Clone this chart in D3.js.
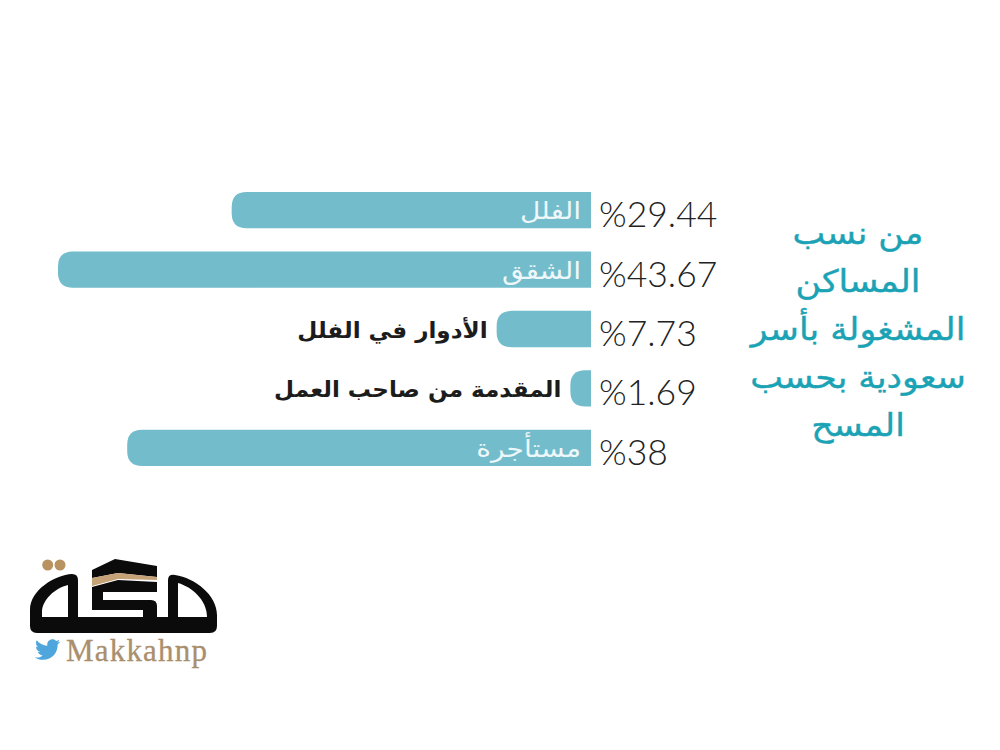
<!DOCTYPE html>
<html>
<head>
<meta charset="utf-8">
<script src="https://cdn.jsdelivr.net/npm/d3@7"></script>
<style>
html,body{margin:0;padding:0;background:#fff;}
</style>
</head>
<body>
<div id="chart"></div>
<script>
const categories = ["الفلل", "الشقق", "الأدوار في الفلل", "المقدمة من صاحب العمل", "مستأجرة"];
const values = [29.44, 43.67, 7.73, 1.69, 38];
const valueLabels = ["%29.44", "%43.67", "%7.73", "%1.69", "%38"];
const titleLines = ["من نسب", "المساكن", "المشغولة بأسر", "سعودية بحسب", "المسح"];

const width = 1000, height = 750;
const barColor = "#72bccc", titleColor = "#1ba3b5", arabicFont = "'DejaVu Sans'";

const svg = d3.select("#chart").append("svg").attr("width",width).attr("height",height);

const x = d3.scaleLinear().domain([0,43.67]).range([591,58]);
const y = d3.scaleBand().domain(categories).range([192,466]).paddingInner(0.39);

// bars only round the left end
function barPath(v, top, h) {
    let x0 = x(v), x1 = x(0), r = Math.min(15, x1-x0);
    return `M${x1},${top}H${x0+r}Q${x0},${top} ${x0},${top+r}V${top+h-r}Q${x0},${top+h} ${x0+r},${top+h}H${x1}Z`;
}

let rows = categories.map((c,i) => ({name:c, value:values[i], label:valueLabels[i]}));

svg.selectAll("path.bar").data(rows).enter().append("path").attr("class","bar")
    .attr("d",d => barPath(d.value,y(d.name),y.bandwidth()))
    .attr("fill",barColor);

// long bars carry the name inside, short ones next to them
// the original lettering is wider than DejaVu, hence the horizontal stretch
svg.selectAll("text.name").data(rows).enter().append("text").attr("class","name")
    .attr("transform",d => {
        let tx = d.value>20 ? 581 : x(d.value)-9;
        let ty = y(d.name)+y.bandwidth()/2+9;
        return `translate(${tx},${ty}) scale(${d.value>20 ? 1.17 : 1.05},1)`;
    })
    .attr("text-anchor","end")
    .attr("font-family",arabicFont).attr("font-size",d => d.value>20 ? 24 : 22)
    .attr("font-weight",d => d.value>20 ? "normal" : "bold")
    .attr("fill",d => d.value>20 ? "#eef7f9" : "#1c1c1c")
    .text(d => d.name);

svg.selectAll("text.val").data(rows).enter().append("text").attr("class","val")
    .attr("x",599)
    .attr("y",d => y(d.name)+y.bandwidth()/2+17)
    .attr("font-family","Lato").attr("font-weight",300).attr("font-size",35.5)
    .attr("fill","#222")
    .style("direction","ltr").style("unicode-bidi","bidi-override")
    .text(d => d.label);

svg.selectAll("text.title").data(titleLines).enter().append("text").attr("class","title")
    .attr("transform",(d,i) => `translate(858,${244+i*48}) scale(1.12,1)`)
    .attr("text-anchor","middle")
    .attr("font-family",arabicFont).attr("font-size",31)
    .attr("fill",titleColor).attr("stroke",titleColor).attr("stroke-width",0.4)
    .text(d => d);

// logo
let logo = svg.append("g");
logo.selectAll("circle").data([47.7,60]).enter().append("circle")
    .attr("cx",d => d).attr("cy",565).attr("r",5.5).attr("fill","#b8935f");
logo.append("path").attr("fill","#0b0b0b").attr("fill-rule","evenodd")
    .attr("d","M30,626V610C30,590 55,575 72,574Q78,574 78,580V617H143V610H92V587L118,580L157,582V592H103V600H151Q157,600 157,606V617H168V580Q168,574 175,575C195,578 217,595 217,615V626Q217,633 210,633H37Q30,633 30,626Z"
        +"M42,617V612C42,600 55,588 68,585V617Z"
        +"M178,617V583C192,587 207,600 207,617Z");
logo.append("path").attr("fill","#0b0b0b").attr("d","M92,570L115,559L157,566V577L118,573L92,578Z");
logo.append("path").attr("fill","#c6a277").attr("d","M92,578L118,573L157,577V580L118,579L92,586Z");
logo.append("path").attr("fill","#4fa6dc").attr("transform","translate(35,637) scale(1.05)")
    .attr("d","M23.954 4.569c-.885.389-1.83.654-2.825.775 1.014-.611 1.794-1.574 2.163-2.723-.951.555-2.005.959-3.127 1.184-.896-.959-2.173-1.559-3.591-1.559-2.717 0-4.92 2.203-4.92 4.917 0 .39.045.765.127 1.124C7.691 8.094 4.066 6.13 1.64 3.161c-.427.722-.666 1.561-.666 2.475 0 1.71.87 3.213 2.188 4.096-.807-.026-1.566-.248-2.228-.616v.061c0 2.385 1.693 4.374 3.946 4.827-.413.111-.849.171-1.296.171-.314 0-.615-.03-.916-.086.631 1.953 2.445 3.377 4.604 3.417-1.68 1.319-3.809 2.105-6.102 2.105-.39 0-.779-.023-1.17-.067 2.189 1.394 4.768 2.209 7.557 2.209 9.054 0 13.999-7.496 13.999-13.986 0-.209 0-.42-.015-.63.961-.689 1.8-1.56 2.46-2.548l-.047-.02z");
logo.append("text").attr("x",66).attr("y",661)
    .attr("font-family","'Liberation Serif'").attr("font-size",31).attr("letter-spacing",1.2)
    .attr("fill","#a98f6d").attr("stroke","#a98f6d").attr("stroke-width",0.3).text("Makkahnp");
</script>
</body>
</html>
